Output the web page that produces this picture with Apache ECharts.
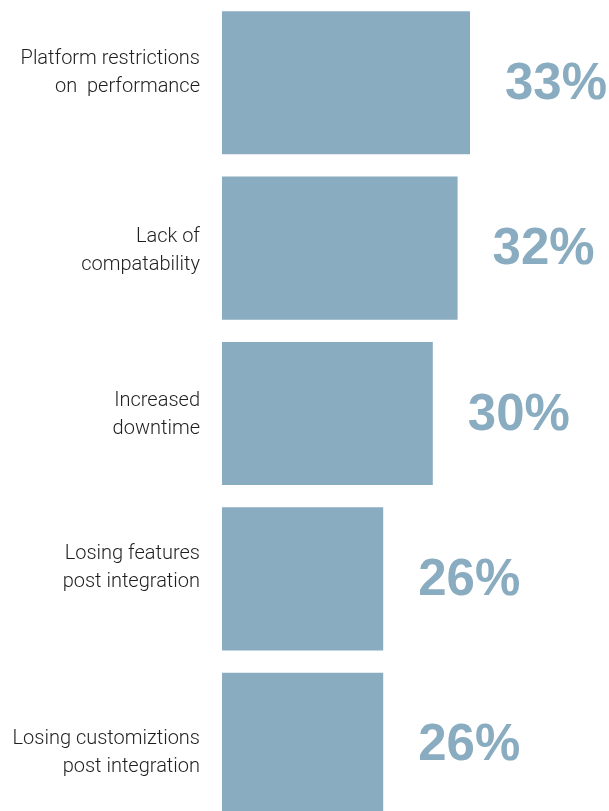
<!DOCTYPE html>
<html>
<head>
<meta charset="utf-8">
<script src="https://cdn.jsdelivr.net/npm/echarts@6/dist/echarts.min.js"></script>
<style>
html,body{margin:0;padding:0;background:#fff;}
#chart{width:609px;height:811px;}
</style>
</head>
<body>
<div id="chart"></div>
<script>
var categories = [
  'Platform restrictions\non  performance',
  'Lack of\ncompatability',
  'Increased\ndowntime',
  'Losing features\npost integration',
  'Losing customiztions\npost integration'
];
var values = [33, 32, 30, 26, 26];
var labelShift = [-10, 3, 1, -11, 9];

var barColor = '#8aacc0';
var chart = echarts.init(document.getElementById('chart'), null, {renderer: 'canvas'});

var rich = {t: {fontFamily: 'Roboto', fontSize: 20, fontWeight: 300, color: '#1e1e1e', lineHeight: 28, align: 'right'}};
labelShift.forEach(function (s, i) {
  rich['s' + i] = {lineHeight: Math.max(1, Math.abs(s) * 2), fontSize: 1, align: 'right'};
});

chart.setOption({
  animation: false,
  backgroundColor: '#ffffff',
  grid: {left: 222, top: 0, width: 384.4, height: 827, containLabel: false, outerBoundsMode: 'none'},
  xAxis: {
    type: 'value', min: 13, max: 44,
    show: false
  },
  yAxis: {
    type: 'category', inverse: true,
    data: categories,
    axisLine: {show: false}, axisTick: {show: false}, splitLine: {show: false},
    axisLabel: {
      margin: 22, align: 'right',
      formatter: function (v, i) {
        var lines = v.split('\n').map(function (l) { return '{t|' + l + '}'; });
        var s = labelShift[i];
        if (s < 0) { lines.push('{s' + i + '|}'); }
        else if (s > 0) { lines.unshift('{s' + i + '|}'); }
        return lines.join('\n');
      },
      rich: rich
    }
  },
  series: [{
    type: 'bar',
    data: values,
    barCategoryGap: '13.5%',
    itemStyle: {color: barColor},
    label: {
      show: true, position: 'right', distance: 35, offset: [0, 2],
      formatter: '{c}%',
      fontFamily: '"Liberation Sans", Arial, sans-serif',
      fontWeight: 'bold', fontSize: 51,
      color: barColor
    }
  }]
});
</script>
</body>
</html>
